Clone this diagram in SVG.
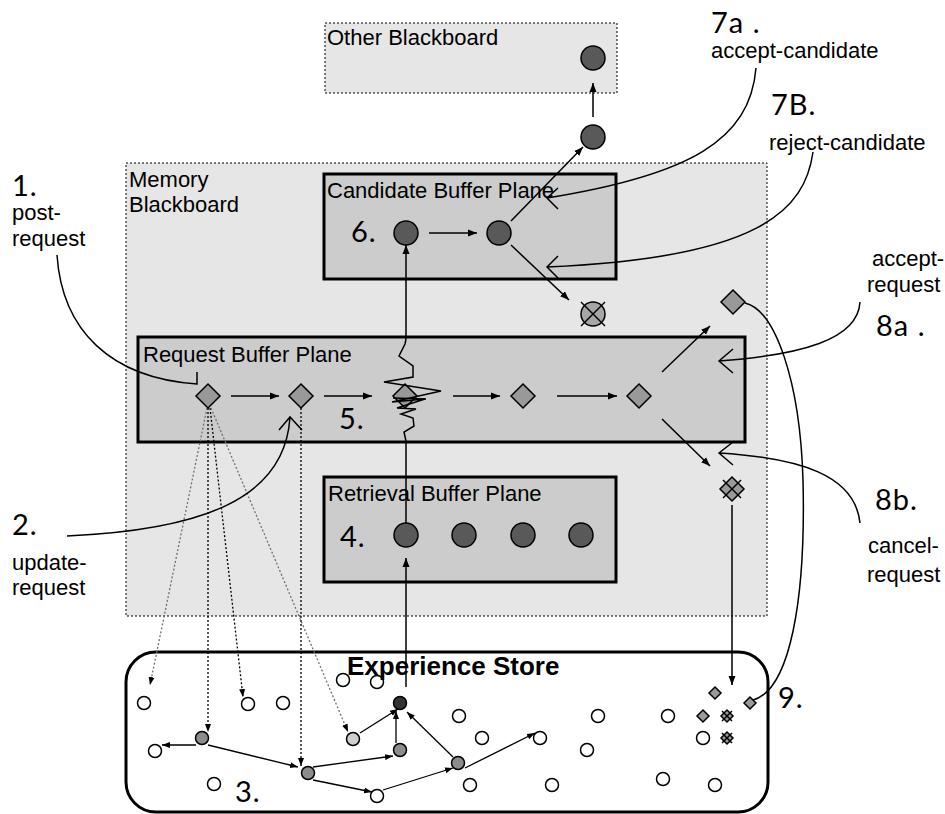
<svg xmlns="http://www.w3.org/2000/svg" width="945" height="814" viewBox="0 0 945 814">
<style>
.bb{fill:#e6e6e6;stroke:#000;stroke-width:1;stroke-dasharray:2 2}
.plane{fill:#cccccc;stroke:#000;stroke-width:3}
.lbl{font-family:"Liberation Sans",Arial,sans-serif;font-size:22px;fill:#000}
.num{font-family:"Lato","DejaVu Sans",sans-serif;font-weight:400;font-size:29px;fill:#000;letter-spacing:1px}
.dk{fill:#595959;stroke:#000;stroke-width:1.5}
.dia{fill:#999;stroke:#000;stroke-width:1.5}
.wc{fill:#fff;stroke:#000;stroke-width:1.5}
.g1{fill:#8c8c8c;stroke:#000;stroke-width:1.5}
.g2{fill:#cfcfcf;stroke:#000;stroke-width:1.5}
.g3{fill:#333;stroke:#000;stroke-width:1.5}
.arr{stroke:#000;stroke-width:1.5;fill:none;marker-end:url(#ah)}
.arrs{stroke:#000;stroke-width:1.3;fill:none;marker-end:url(#ahs)}
.dot{stroke:#000;stroke-width:1.3;stroke-dasharray:2 2;fill:none;marker-end:url(#ahs)}
.gdot{stroke:#707070}
.cv{fill:none;stroke:#000;stroke-width:1.5}
.x{stroke:#000;stroke-width:1.5}
</style>
<defs>
<marker id="ah" viewBox="0 0 9 8" refX="9" refY="4" markerWidth="9" markerHeight="8" markerUnits="userSpaceOnUse" orient="auto"><path d="M0,0.5 L9,4 L0,7.5 z" fill="#000"/></marker>
<marker id="ahs" viewBox="0 0 8 7" refX="8" refY="3.5" markerWidth="8" markerHeight="7" markerUnits="userSpaceOnUse" orient="auto"><path d="M0,0.5 L8,3.5 L0,6.5 z" fill="#000"/></marker>
</defs>

<g id="other-blackboard">
<rect class="bb" x="325" y="23" width="292" height="70"/>
<text class="lbl" x="327" y="45">Other Blackboard</text>
<circle class="dk" cx="593" cy="58" r="12"/>
</g>

<g id="memory-blackboard">
<rect class="bb" x="126" y="163" width="641" height="453"/>
<text class="lbl" x="129" y="187">Memory</text>
<text class="lbl" x="129" y="212">Blackboard</text>
</g>

<g id="candidate-buffer-plane">
<rect class="plane" x="324" y="174" width="292" height="105"/>
<text class="lbl" x="327" y="198">Candidate Buffer Plane</text>
<text class="num" x="351" y="242">6.</text>
<circle class="dk" cx="406" cy="233" r="12"/>
<circle class="dk" cx="499" cy="233" r="12"/>
</g>

<g id="outside-candidate">
<circle class="dk" cx="593" cy="137" r="12"/>
</g>

<g id="rejected-candidate">
<circle cx="593" cy="314" r="12" fill="#a6a6a6" stroke="#000" stroke-width="1.5"/>
<line class="x" x1="581" y1="302" x2="605" y2="326"/>
<line class="x" x1="605" y1="302" x2="581" y2="326"/>
</g>

<g id="request-buffer-plane">
<rect class="plane" x="138" y="337" width="607" height="105"/>
<text class="lbl" x="143" y="362">Request Buffer Plane</text>
<text class="num" x="339" y="429">5.</text>
<polygon class="dia" points="208,384 220,396 208,408 196,396"/>
<polygon class="dia" points="301,384 313,396 301,408 289,396"/>
<polygon class="dia" points="405,384 417,396 405,408 393,396"/>
<polygon class="dia" points="523,384 535,396 523,408 511,396"/>
<polygon class="dia" points="639,384 651,396 639,408 627,396"/>
</g>

<g id="accepted-request">
<polygon class="dia" points="733,290 745,302 733,314 721,302"/>
</g>

<g id="cancelled-request">
<polygon class="dia" points="732,477 744,489 732,501 720,489"/>
<line class="x" x1="723" y1="480" x2="741" y2="498"/>
<line class="x" x1="741" y1="480" x2="723" y2="498"/>
</g>

<g id="retrieval-buffer-plane">
<rect class="plane" x="324" y="477" width="292" height="105"/>
<text class="lbl" x="328" y="501">Retrieval Buffer Plane</text>
<text class="num" x="340" y="547">4.</text>
<circle class="dk" cx="406" cy="535" r="12"/>
<circle class="dk" cx="464" cy="535" r="12"/>
<circle class="dk" cx="523" cy="535" r="12"/>
<circle class="dk" cx="581" cy="535" r="12"/>
</g>

<g id="experience-store">
<rect x="126" y="652" width="642" height="160" rx="30" ry="30" fill="#fff" stroke="#000" stroke-width="3"/>
<circle class="wc" cx="343" cy="680" r="6.5"/>
<circle class="wc" cx="377" cy="682" r="6.5"/>
<text x="347" y="675" font-family="Liberation Sans,Arial,sans-serif" font-size="26" font-weight="bold">Experience Store</text>
<text class="num" x="235" y="802">3.</text>
<circle class="wc" cx="144" cy="703" r="6.5"/>
<circle class="wc" cx="248" cy="704" r="6.5"/>
<circle class="wc" cx="283" cy="703" r="6.5"/>
<circle class="wc" cx="155" cy="751" r="6.5"/>
<circle class="g1" cx="202" cy="738" r="6.5"/>
<circle class="g2" cx="353" cy="739" r="6.5"/>
<circle class="g3" cx="400" cy="703" r="6.5"/>
<circle class="g1" cx="400" cy="750" r="6.5"/>
<circle class="g1" cx="308" cy="773" r="6.5"/>
<circle class="wc" cx="377" cy="796" r="6.5"/>
<circle class="wc" cx="214" cy="784" r="6.5"/>
<circle class="wc" cx="459" cy="716" r="6.5"/>
<circle class="wc" cx="482" cy="738" r="6.5"/>
<circle class="g1" cx="458" cy="763" r="6.5"/>
<circle class="wc" cx="470" cy="785" r="6.5"/>
<circle class="wc" cx="540" cy="738" r="6.5"/>
<circle class="wc" cx="552" cy="785" r="6.5"/>
<circle class="wc" cx="598" cy="716" r="6.5"/>
<circle class="wc" cx="587" cy="750" r="6.5"/>
<circle class="wc" cx="668" cy="716" r="6.5"/>
<circle class="wc" cx="663" cy="779" r="6.5"/>
<circle class="wc" cx="703" cy="738" r="6.5"/>
<circle class="wc" cx="715" cy="785" r="6.5"/>
<polygon class="dia" points="715,687 721,693 715,699 709,693"/>
<polygon class="dia" points="703,710 709,716 703,722 697,716"/>
<polygon class="dia" points="750,697 756,703 750,709 744,703"/>
<polygon class="dia" points="727,710 733,716 727,722 721,716"/>
<line class="x" x1="722" y1="711" x2="732" y2="721"/><line class="x" x1="732" y1="711" x2="722" y2="721"/>
<polygon class="dia" points="727,732 733,738 727,744 721,738"/>
<line class="x" x1="722" y1="733" x2="732" y2="743"/><line class="x" x1="732" y1="733" x2="722" y2="743"/>
<text class="num" x="778" y="708">9.</text>
</g>

<g id="labels">
<text class="num" x="711" y="33">7a .</text>
<text class="lbl" x="711" y="58">accept-candidate</text>
<text class="num" x="771" y="115">7B.</text>
<text class="lbl" x="769" y="150">reject-candidate</text>
<text class="lbl" x="872" y="266">accept-</text>
<text class="lbl" x="867" y="292">request</text>
<text class="num" x="876" y="336">8a .</text>
<text class="num" x="875" y="510">8b.</text>
<text class="lbl" x="868" y="553">cancel-</text>
<text class="lbl" x="867" y="582">request</text>
<text class="num" x="12" y="196">1.</text>
<text class="lbl" x="12" y="220">post-</text>
<text class="lbl" x="12" y="246">request</text>
<text class="num" x="12" y="535">2.</text>
<text class="lbl" x="12" y="570">update-</text>
<text class="lbl" x="12" y="595">request</text>
</g>

<g id="connectors">
<line class="arr" x1="593" y1="117" x2="593" y2="83"/>
<line class="arr" x1="511" y1="221" x2="583" y2="147"/>
<line class="arr" x1="429" y1="233" x2="477" y2="233"/>
<line class="arr" x1="511" y1="245" x2="569" y2="300"/>
<line class="arr" x1="231" y1="396" x2="279" y2="396"/>
<line class="arr" x1="324" y1="396" x2="372" y2="396"/>
<line class="arr" x1="453" y1="396" x2="500" y2="396"/>
<line class="arr" x1="557" y1="396" x2="617" y2="396"/>
<line class="arr" x1="662" y1="372" x2="710" y2="326"/>
<line class="arr" x1="662" y1="419" x2="710" y2="466"/>
<line class="arr" x1="406" y1="339" x2="406" y2="245"/>
<line class="cv" x1="406" y1="523" x2="406" y2="441"/>
<polyline class="cv" stroke-width="1.2" points="406,441 404,432 414,426 413,418 401,414 416,409 397,408 425,399 392,402 441,391 384,382 413,377 413,366 399,356 405,344 406,339"/>
<line class="cv" stroke-width="1.2" x1="393" y1="398" x2="426" y2="399"/>
<line class="arr" x1="406" y1="687" x2="406" y2="558"/>
<line class="arr" x1="732" y1="505" x2="732" y2="685"/>
<path class="dot gdot" d="M207,408 L150,685"/>
<path class="dot" d="M208,408 L208,732"/>
<path class="dot" d="M210,408 L243,697"/>
<path class="dot gdot" d="M211,408 L348,732"/>
<path class="dot" d="M301,408 L301,766"/>
<line class="arrs" x1="196" y1="745" x2="162" y2="745"/>
<line class="arrs" x1="208" y1="745" x2="298" y2="767"/>
<line class="arrs" x1="313" y1="767" x2="393" y2="756"/>
<line class="arrs" x1="313" y1="780" x2="372" y2="792"/>
<line class="arrs" x1="383" y1="790" x2="453" y2="768"/>
<line class="arrs" x1="360" y1="733" x2="398" y2="709"/>
<line class="arrs" x1="396" y1="743" x2="396" y2="711"/>
<line class="arrs" x1="453" y1="757" x2="407" y2="712"/>
<line class="arrs" x1="465" y1="768" x2="535" y2="733"/>
<path class="cv" d="M756,68 C750,140 690,175 547,198 M558,188 L547,198 L558,209"/>
<path class="cv" d="M813,152 C805,210 760,258 547,267 M558,256 L547,267 L558,278"/>
<path class="cv" d="M860,302 C858,340 800,355 719,361 M733,349 L719,361 L733,373"/>
<path class="cv" d="M860,523 C855,475 800,458 719,453 M733,442 L719,453 L733,465"/>
<path class="cv" d="M745,303 C775,310 800,380 803,480 C806,600 790,690 753,700"/>
<path class="cv" d="M57,255 C62,330 110,378 197,384 L197,372"/>
<path class="cv" d="M67,536 C200,530 285,500 290,417 M279,430 L290,417 L302,430"/>
</g>
</svg>
